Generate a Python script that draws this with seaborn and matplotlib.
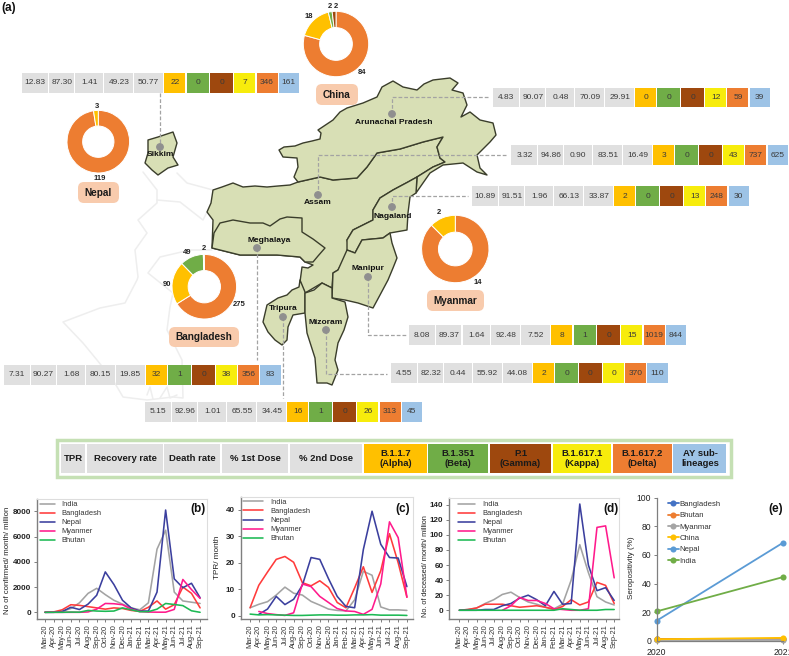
"""Recreates the NE India variant / COVID panel figure: map with tables and donuts (a), trend panels (b-e)."""
import numpy as np
import pandas as pd
import matplotlib
matplotlib.use("Agg")
import matplotlib.pyplot as plt
from matplotlib.patches import Polygon, Circle, Rectangle, FancyBboxPatch
import seaborn as sns

W, H = 789, 656

# --- panel (a) tables ---
row_sikkim = ["12.83", "87.30", "1.41", "49.23", "50.77", "22", "0", "0", "7", "346", "161"]
row_arunachal = ["4.83", "90.07", "0.48", "70.09", "29.91", "0", "0", "0", "12", "59", "39"]
row_assam = ["3.32", "94.86", "0.90", "83.51", "16.49", "3", "0", "0", "43", "737", "625"]
row_nagaland = ["10.89", "91.51", "1.96", "66.13", "33.87", "2", "0", "0", "13", "248", "30"]
row_manipur = ["8.08", "89.37", "1.64", "92.48", "7.52", "8", "1", "0", "15", "1019", "844"]
row_mizoram = ["4.55", "82.32", "0.44", "55.92", "44.08", "2", "0", "0", "0", "370", "110"]
row_meghalaya = ["7.31", "90.27", "1.68", "80.15", "19.85", "32", "1", "0", "38", "356", "83"]
row_tripura = ["5.15", "92.96", "1.01", "65.55", "34.45", "16", "1", "0", "26", "313", "45"]

GRAY, ALPHA, BETA, GAMMA, KAPPA, DELTA, AY = ("#E0E0E0", "#FFC000", "#70AD47", "#9E480E",
                                              "#F7EC0C", "#ED7D31", "#9DC3E6")
cell_colors = [GRAY] * 5 + [ALPHA, BETA, GAMMA, KAPPA, DELTA, AY]
cell_widths = [26, 25, 27.7, 29, 28.6, 21.3, 22.7, 23, 21, 21, 20.3]

legend_cells = ["TPR", "Recovery rate", "Death rate", "% 1st Dose", "% 2nd Dose",
                "B.1.1.7\n(Alpha)", "B.1.351\n(Beta)", "P.1\n(Gamma)", "B.1.617.1\n(Kappa)",
                "B.1.617.2\n(Delta)", "AY sub-\nlineages"]
legend_edges = [(61, 85.5), (87, 163), (164.5, 220.5), (222.5, 288.5), (290, 362.5), (364.5, 427),
                (428.5, 488), (490, 551), (553, 611), (613, 672), (673.5, 726.5)]

# --- donuts ---
china_counts = [84, 18, 2, 2]
nepal_counts = [119, 3]
bangladesh_counts = [275, 90, 49, 2]
myanmar_counts = [14, 2]

# --- map outlines (image pixels) ---
assam = [(213, 190), (222, 187), (233, 183), (243, 187), (255, 186), (267, 187), (278, 186), (290, 185),
         (298, 182), (320, 177), (333, 180), (357, 178), (367, 167), (377, 153), (400, 149), (423, 142),
         (443, 137), (437, 147), (440, 158), (445, 162), (433, 167), (417, 177), (408, 182), (393, 190),
         (380, 198), (373, 210), (373, 220), (353, 230), (347, 240), (350, 250), (338, 270), (333, 273),
         (332, 288), (322, 283), (305, 293), (300, 282), (302, 267), (308, 268), (313, 265), (305, 262),
         (300, 257), (277, 255), (240, 255), (212, 248), (213, 220), (207, 212), (211, 203)]
arunachal = [(279, 150), (284, 147), (295, 146), (303, 143), (312, 141), (320, 139), (321, 133), (318, 130),
             (333, 120), (340, 112), (347, 108), (363, 103), (377, 97), (382, 87), (393, 81), (403, 87),
             (417, 90), (424, 84), (433, 80), (450, 78), (458, 83), (452, 90), (463, 93), (467, 105),
             (461, 117), (470, 112), (480, 120), (493, 123), (496, 135), (490, 142), (477, 155), (480, 168),
             (487, 175), (477, 172), (463, 163), (443, 165), (430, 173), (416, 193), (417, 177), (433, 167),
             (445, 162), (440, 158), (437, 147), (443, 137), (423, 142), (400, 149), (377, 153), (367, 167),
             (357, 178), (333, 180), (320, 177), (298, 182), (294, 177), (298, 167), (297, 158), (283, 157)]
nagaland = [(417, 177), (408, 182), (393, 190), (380, 198), (373, 210), (373, 220), (353, 230), (347, 240),
            (347, 250), (355, 253), (362, 240), (383, 238), (390, 233), (407, 230), (408, 213), (410, 197),
            (416, 193)]
manipur = [(347, 250), (355, 253), (362, 240), (383, 238), (390, 233), (392, 243), (397, 258), (393, 268),
           (388, 280), (380, 295), (373, 308), (358, 303), (345, 300), (332, 298), (333, 273), (338, 270)]
meghalaya = [(220, 223), (233, 220), (250, 223), (263, 223), (270, 226), (280, 219), (287, 217), (302, 218),
             (302, 232), (313, 239), (325, 248), (318, 256), (313, 262), (305, 262), (300, 257), (277, 255),
             (240, 255), (212, 248), (214, 233)]
tripura = [(300, 280), (305, 292), (305, 313), (293, 315), (288, 327), (287, 340), (282, 345), (275, 340),
           (268, 332), (263, 322), (267, 305), (278, 298), (287, 295), (292, 290), (299, 287)]
mizoram = [(305, 293), (314, 290), (322, 283), (332, 288), (332, 298), (345, 302), (348, 317), (344, 330),
           (338, 343), (335, 360), (338, 370), (332, 385), (327, 383), (317, 383), (315, 358), (307, 333),
           (305, 313)]
sikkim = [(148, 140), (158, 137), (173, 132), (177, 143), (173, 157), (178, 165), (168, 168), (158, 175),
          (152, 170), (145, 163), (148, 153)]
wb_west = [(143, 172), (157, 190), (157, 203), (138, 220), (147, 233), (135, 250), (138, 277), (137, 280),
           (125, 303), (100, 308), (63, 322), (83, 343), (97, 360), (113, 380), (123, 397), (147, 400),
           (173, 397), (183, 398), (182, 360), (167, 330), (170, 307), (173, 293), (148, 273), (160, 257),
           (190, 250), (212, 250)]
wb_north = [(157, 200), (180, 202), (203, 220), (207, 212)]
wb_top = [(177, 173), (187, 183), (213, 190)]
wb_delta_a = [(147, 395), (150, 387), (153, 399)]
wb_delta_b = [(160, 398), (167, 387), (170, 398), (177, 395)]

# --- panels (b)-(d) ---
months = ["Mar-20", "Apr-20", "May-20", "Jun-20", "Jul-20", "Aug-20", "Sep-20", "Oct-20", "Nov-20", "Dec-20",
          "Jan-21", "Feb-21", "Mar-21", "Apr-21", "May-21", "Jun-21", "Jul-21", "Aug-21", "Sep-21"]
countries = ["India", "Bangladesh", "Nepal", "Myanmer", "Bhutan"]
palette = {"India": "#A3A3A3", "Bangladesh": "#FF3B3B", "Nepal": "#3B3F9E", "Myanmer": "#FF1A8C", "Bhutan": "#1DB954"}

cases_india = [0, 10, 80, 300, 750, 1500, 1900, 1400, 950, 650, 350, 200, 750, 5000, 6500, 1600, 900, 800, 700]
cases_bangladesh = [0, 30, 200, 600, 550, 450, 350, 250, 350, 300, 150, 70, 400, 900, 250, 600, 2000, 1500, 350]
cases_nepal = [0, 0, 60, 400, 220, 650, 1350, 3200, 2200, 950, 350, 100, 100, 1600, 8100, 2650, 1950, 2300, 1150]
cases_myanmar = [0, 0, 0, 0, 0, 30, 250, 700, 680, 600, 250, 60, 20, 10, 10, 230, 2600, 1800, 1100]
cases_bhutan = [0, 0, 0, 20, 10, 150, 100, 80, 100, 350, 200, 50, 50, 250, 700, 620, 530, 120, 0]

tpr_india = [3, 4.3, 5.3, 7.8, 10.8, 8.5, 7.8, 5.4, 4, 2.5, 2, 1.8, 6, 16.8, 15.3, 3.3, 2.2, 2.2, 2]
tpr_bangladesh = [3, 11.5, 16.5, 21.3, 22.4, 20.2, 12.5, 11.3, 13.2, 10.7, 5, 3, 10.5, 18.5, 8.8, 17, 31, 20, 7]
tpr_nepal = [None, 0.5, 2.5, 7.3, 4.2, 6.2, 11.5, 22, 21.3, 14, 7.3, 3.5, 3, 25, 39.5, 27, 22, 21.8, 11]
tpr_myanmar = [None, 1.6, 0.8, 0.4, 0.1, 1.1, 12, 11, 7.3, 5, 2.7, 1.8, 1.6, 0.5, 2.4, 12, 35.5, 29.5, 7]
tpr_bhutan = [.6, .3, .4, .3, .2, .1, .1, .2, .3, .3, .2, .2, .3, .3, .4, .2, .2, .2, .1]

deaths_india = [0, 1, 3, 9, 14, 21, 24, 17, 11, 8, 4, 2, 8, 40, 87, 50, 18, 11, 7]
deaths_bangladesh = [0, 1, 3, 8, 8, 8, 6, 4, 5, 6, 4, 1, 5, 14, 7, 11, 37, 33, 9]
deaths_nepal = [0, 0, 0, 1, 1, 6, 9, 16, 20, 14, 6, 25, 8, 9, 141, 60, 26, 30, 13]
deaths_myanmar = [None, None, None, None, None, 0, 6, 17, 13, 13, 9, 2, 1, 0, 0, 2, 110, 112, 43]
deaths_bhutan = [0, 0, 0, 0, 0, 0, 0, 0, 0, 0, 0, 0, 2, 1, 0, 0, 0, 1, 1]

# --- panel (e) ---
sero_years = [2020, 2021]
sero_bangladesh = [1, 1]
sero_bhutan = [1, 1]
sero_myanmar = [0.5, 0.5]
sero_china = [1, 2]
sero_nepal = [14, 68.5]
sero_india = [20.5, 44.5]

sns.set_style("white")
plt.rcParams["font.family"] = ["Liberation Sans", "DejaVu Sans"]

fig = plt.figure(figsize=(W / 100, H / 100), dpi=100)
base = fig.add_axes([0, 0, 1, 1])
base.set_xlim(0, W)
base.set_ylim(H, 0)
base.axis("off")


def px_axes(x0, top, x1, bottom):
    return fig.add_axes([x0 / W, 1 - bottom / H, (x1 - x0) / W, (bottom - top) / H])


# --- map ---
for line in [wb_west, wb_north, wb_top, wb_delta_a, wb_delta_b]:
    xs, ys = zip(*line)
    base.plot(xs, ys, color="#EEEEEE", lw=1.1, zorder=1)
for poly in [assam, arunachal, nagaland, manipur, meghalaya, tripura, mizoram, sikkim]:
    base.add_patch(Polygon(poly, closed=True, facecolor="#D8DFB5", edgecolor="#3A3D2B", lw=1.0,
                           joinstyle="round", zorder=2))

dash = dict(color="#A3A3A3", lw=0.9, ls=(0, (3, 1.6)), zorder=3)
leaders = {
    "sikkim": ([160, 160], [93, 146]),
    "arunachal": ([392, 392, 490], [114, 97, 97]),
    "assam": ([318, 318, 506], [195, 155, 155]),
    "nagaland": ([392, 392, 468], [207, 196, 196]),
    "manipur": ([368, 368, 406], [277, 335, 335]),
    "mizoram": ([326, 326, 387], [330, 374, 374]),
    "meghalaya": ([257, 257], [248, 360]),
    "tripura": ([283, 283], [317, 398]),
}
for xs, ys in leaders.values():
    base.plot(xs, ys, **dash)

state_marks = [("Sikkim", 160, 147, 160, 155), ("Arunachal Pradesh", 392, 114, 394, 123),
               ("Assam", 318, 195, 318, 203), ("Nagaland", 392, 207, 393, 216),
               ("Manipur", 368, 277, 368, 269), ("Meghalaya", 257, 248, 269, 241),
               ("Tripura", 283, 317, 283, 309), ("Mizoram", 326, 330, 326, 322)]
for name, dx, dy, tx, ty in state_marks:
    base.add_patch(Circle((dx, dy), 3.2, color="#8F8F8F", zorder=4))
    base.text(tx, ty, name, ha="center", va="center", fontsize=6, fontweight="bold", color="#111111", zorder=5)

# --- value rows ---
rows = [(row_sikkim, 22.3, 73), (row_arunachal, 493.3, 87.7), (row_assam, 511.3, 145.3),
        (row_nagaland, 472.3, 186.3), (row_manipur, 409.3, 325.3), (row_mizoram, 391, 363.3),
        (row_meghalaya, 4, 365), (row_tripura, 145.3, 402)]
for values, x0, top in rows:
    x = x0
    for val, w, col in zip(values, cell_widths, cell_colors):
        base.add_patch(Rectangle((x, top), w, 19.5, facecolor=col, edgecolor="none", zorder=6))
        base.text(x + w / 2, top + 9.9, val, ha="center", va="center", fontsize=6, color="#3A3A3A", zorder=7)
        x += w + 1.1

# --- key band ---
base.add_patch(Rectangle((57.5, 440.3), 673.5, 36.7, facecolor="white", edgecolor="#C5E0B4", lw=2.5, zorder=6))
key_colors = [GRAY] * 5 + [ALPHA, BETA, GAMMA, KAPPA, DELTA, AY]
for label, (x0, x1), col in zip(legend_cells, legend_edges, key_colors):
    base.add_patch(Rectangle((x0, 444), x1 - x0, 28.7, facecolor=col, edgecolor="none", zorder=7))
    base.text((x0 + x1) / 2, 458.5, label, ha="center", va="center", fontsize=6.8, fontweight="bold",
              color="#1A1A1A", linespacing=1.15, zorder=8)

# --- donuts ---
donuts = [(china_counts, [DELTA, ALPHA, BETA, GAMMA], 336, 44, 32.7),
          (nepal_counts, [DELTA, ALPHA], 98.3, 141.7, 31.3),
          (bangladesh_counts, [DELTA, ALPHA, BETA, KAPPA], 204.3, 286.7, 32.3),
          (myanmar_counts, [DELTA, ALPHA], 455.3, 249, 33.7)]
for counts, cols, cx, cy, r in donuts:
    ax = px_axes(cx - r, cy - r, cx + r, cy + r)
    ax.pie(counts, colors=cols, startangle=90, counterclock=False, radius=1,
           wedgeprops=dict(width=0.5, edgecolor="white", linewidth=0.7))
    ax.set_xlim(-1, 1)
    ax.set_ylim(-1, 1)

donut_labels = [("84", 362, 72), ("18", 309, 17), ("2", 330, 7), ("2", 336, 7), ("3", 97, 106), ("119", 100, 178),
                ("49", 187, 252), ("2", 204, 248), ("90", 167, 285), ("275", 239, 304), ("2", 439, 213), ("14", 478, 282)]
for txt, x, y in donut_labels:
    base.text(x, y, txt, ha="center", va="center", fontsize=5.5, fontweight="bold", color="#222222", zorder=8)

tags = [("China", 316, 84, 358, 105), ("Nepal", 78, 182, 119, 203), ("Bangladesh", 169, 327, 239, 347),
        ("Myanmar", 427, 290, 484, 311)]
for name, x0, y0, x1, y1 in tags:
    base.add_patch(FancyBboxPatch((x0 + 5, y0 + 5), x1 - x0 - 10, y1 - y0 - 10, boxstyle="round,pad=5,rounding_size=6",
                                  facecolor="#F8CBAD", edgecolor="none", zorder=6))
    base.text((x0 + x1) / 2, (y0 + y1) / 2 + 0.3, name, ha="center", va="center", fontsize=7.2, fontweight="bold",
              color="#1A1A1A", zorder=7)

base.text(1, 8, "(a)", ha="left", va="center", fontsize=8.5, fontweight="bold", color="#111111")


# --- line panels ---
def trend_panel(rect, series, xlim, ylim, yticks, ylabel, ylab_pos, ylab_size, tag, tag_xy, legend_xy, handle_len):
    ax = px_axes(*rect)
    df = pd.DataFrame({"month": months * len(countries),
                       "country": np.repeat(countries, len(months)),
                       "value": np.concatenate([np.array(s, dtype=float) for s in series])})
    sns.lineplot(data=df, x="month", y="value", hue="country", hue_order=countries, palette=palette,
                 sort=False, estimator=None, lw=1.15, ax=ax)
    ax.set_xlim(*xlim)
    ax.set_ylim(*ylim)
    ax.set_xticks(range(len(months)))
    ax.set_xticklabels(months, rotation=90, fontsize=5.3, color="#333333")
    ax.set_yticks(yticks)
    ax.tick_params(axis="y", labelsize=5.8, length=2.5, width=0.7, pad=1.5, color="#7F7F7F", left=True)
    ax.tick_params(axis="x", length=2.5, width=0.7, pad=1.5, color="#7F7F7F", bottom=True)
    for lab in ax.get_yticklabels():
        lab.set_fontweight("bold")
        lab.set_color("#222222")
    ax.set_xlabel("")
    ax.set_ylabel("")
    for side in ["top", "right"]:
        ax.spines[side].set_color("#DDDDDD")
        ax.spines[side].set_linewidth(0.8)
    for side in ["left", "bottom"]:
        ax.spines[side].set_color("#7F7F7F")
        ax.spines[side].set_linewidth(1.0)
    handles, labels = ax.get_legend_handles_labels()
    ax.legend(handles, labels, loc="upper left", bbox_to_anchor=(legend_xy[0] / W, 1 - legend_xy[1] / H),
              bbox_transform=fig.transFigure, frameon=False, fontsize=5.4, handlelength=handle_len,
              handletextpad=0.9, labelspacing=0.24, borderpad=0, borderaxespad=0, labelcolor="#333333")
    base.text(ylab_pos[0], ylab_pos[1], ylabel, rotation=90, ha="center", va="center", fontsize=ylab_size,
              color="#222222")
    base.text(tag_xy[0], tag_xy[1], tag, ha="center", va="center", fontsize=8.5, fontweight="bold", color="#111111",
              zorder=10)
    return ax


panel_b = trend_panel((36.7, 499, 207, 619),
                      [cases_india, cases_bangladesh, cases_nepal, cases_myanmar, cases_bhutan],
                      (-0.96, 18.8), (-530, 8974), [0, 2000, 4000, 6000, 8000],
                      "No of confirmed/ month/ million", (7.5, 560), 5.6, "(b)", (198, 509), (40, 501), 2.0)
panel_c = trend_panel((240.5, 496.7, 413, 619),
                      [tpr_india, tpr_bangladesh, tpr_nepal, tpr_myanmar, tpr_bhutan],
                      (-1.1, 18.7), (-1.25, 45), [0, 10, 20, 30, 40],
                      "TPR/ month", (218, 557), 5.9, "(c)", (403, 509), (243, 498.8), 2.7)
panel_d = trend_panel((449, 498, 618.5, 619),
                      [deaths_india, deaths_bangladesh, deaths_nepal, deaths_myanmar, deaths_bhutan],
                      (-1.2, 18.5), (-11.6, 149), [0, 20, 40, 60, 80, 100, 120, 140],
                      "No. of deceased/ month/ million", (425.7, 566), 5.3, "(d)", (611, 509), (458, 501), 2.3)

# --- panel (e) ---
ax_e = px_axes(656.7, 497.7, 783, 640.7)
sero_names = ["Bangladesh", "Bhutan", "Myanmar", "China", "Nepal", "India"]
sero_colors = dict(zip(sero_names, ["#4472C4", "#ED7D31", "#A5A5A5", "#FFC000", "#5B9BD5", "#70AD47"]))
sero_series = [sero_bangladesh, sero_bhutan, sero_myanmar, sero_china, sero_nepal, sero_india]
sero_df = pd.DataFrame({"year": sero_years * len(sero_names),
                        "country": np.repeat(sero_names, len(sero_years)),
                        "value": np.concatenate(sero_series)})
sns.lineplot(data=sero_df, x="year", y="value", hue="country", hue_order=sero_names, palette=sero_colors,
             marker="o", markersize=4.4, markeredgewidth=0, lw=1.3, clip_on=False, estimator=None, ax=ax_e)
ax_e.set_xlim(2020, 2021)
ax_e.set_ylim(0, 100)
ax_e.set_xticks(sero_years)
ax_e.set_xticklabels([str(y) for y in sero_years], fontsize=6.2, color="#222222")
ax_e.set_yticks([0, 20, 40, 60, 80, 100])
ax_e.tick_params(axis="y", labelsize=6.2, length=2.5, width=0.7, pad=1.5, color="#7F7F7F", left=True, labelcolor="#222222")
ax_e.tick_params(axis="x", length=2.5, width=0.7, pad=3, color="#7F7F7F", bottom=True)
ax_e.set_xlabel("")
ax_e.set_ylabel("")
sns.despine(ax=ax_e)
for side in ["left", "bottom"]:
    ax_e.spines[side].set_color("#7F7F7F")
    ax_e.spines[side].set_linewidth(0.9)
h_e, l_e = ax_e.get_legend_handles_labels()
ax_e.legend(h_e, l_e, loc="upper left", bbox_to_anchor=(668 / W, 1 - 500.5 / H), bbox_transform=fig.transFigure,
            frameon=False, fontsize=5.6, handlelength=1.35, handletextpad=0.12, labelspacing=0.5, borderpad=0,
            borderaxespad=0, labelcolor="#333333")
base.text(631.7, 568, "Seropositivity (%)", rotation=90, ha="center", va="center", fontsize=5.8, color="#222222")
base.text(776, 509, "(e)", ha="center", va="center", fontsize=8.5, fontweight="bold", color="#111111", zorder=10)

# base axes holds labels that sit on top of the panels too
base.set_zorder(0)
for a in [panel_b, panel_c, panel_d, ax_e]:
    a.set_facecolor("none")
    a.set_zorder(1)

fig.savefig("out.png", dpi=100)
